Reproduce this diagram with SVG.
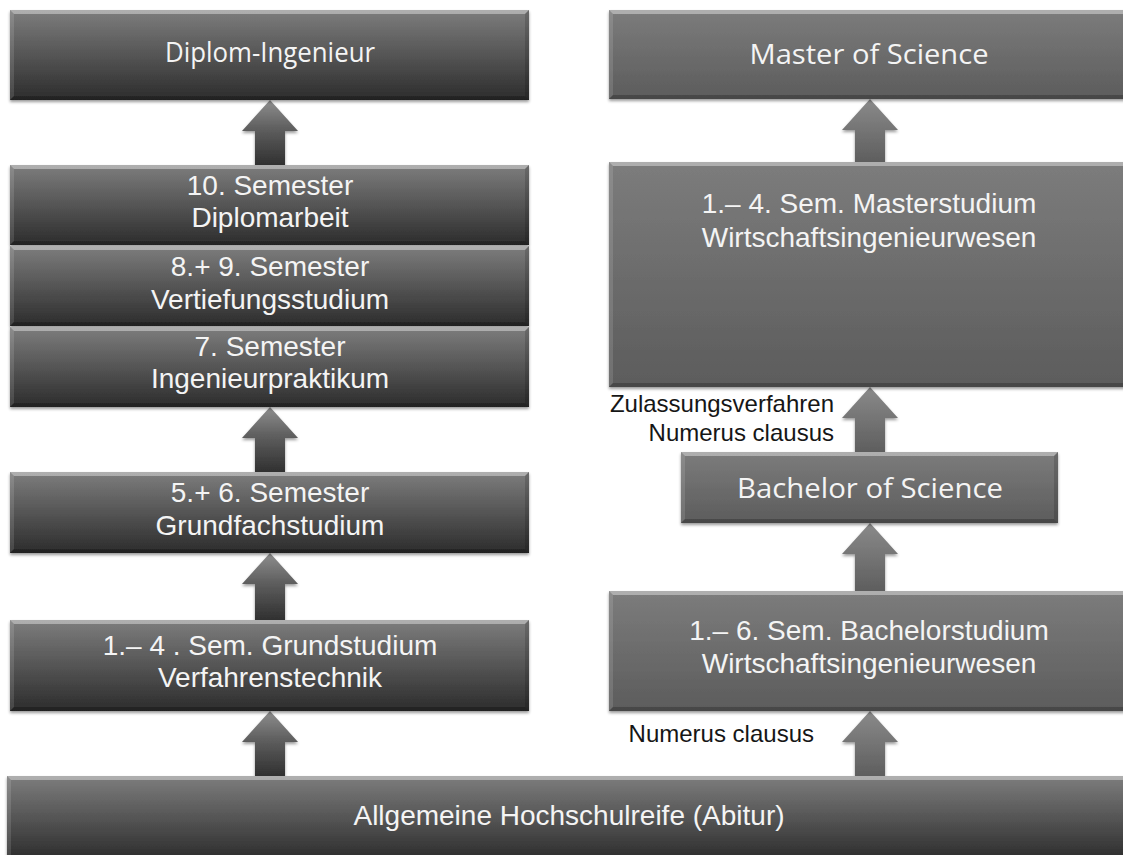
<svg xmlns="http://www.w3.org/2000/svg" width="1123" height="855" viewBox="0 0 1123 855">
<defs>
<linearGradient id="gDark" x1="0" y1="0" x2="0" y2="1">
<stop offset="0" stop-color="#7d7d7d"/><stop offset="0.5" stop-color="#555"/><stop offset="1" stop-color="#2c2c2c"/>
</linearGradient>
<linearGradient id="gLight" x1="0" y1="0" x2="0" y2="1">
<stop offset="0" stop-color="#7c7c7c"/><stop offset="1" stop-color="#5c5c5c"/>
</linearGradient>
<linearGradient id="aDark" x1="0" y1="0" x2="0" y2="1">
<stop offset="0" stop-color="#8e8e8e"/><stop offset="0.45" stop-color="#5e5e5e"/><stop offset="1" stop-color="#303030"/>
</linearGradient>
<linearGradient id="aLight" x1="0" y1="0" x2="0" y2="1">
<stop offset="0" stop-color="#8a8a8a"/><stop offset="1" stop-color="#5e5e5e"/>
</linearGradient>
<filter id="sh" x="-5%" y="-10%" width="110%" height="125%">
<feDropShadow dx="0" dy="2" stdDeviation="1.6" flood-color="#000" flood-opacity="0.4"/>
</filter>
</defs>
<style>
.dk{fill:url(#gDark);filter:url(#sh)}
.lt{fill:url(#gLight);filter:url(#sh)}
.bt{fill:#fff;fill-opacity:0.38}
.bl{fill:#fff;fill-opacity:0.12}
.br{fill:#000;fill-opacity:0.15}
.bb{fill:#000;fill-opacity:0.22}
.ad{fill:url(#aDark);filter:url(#sh)}
.al{fill:url(#aLight);filter:url(#sh)}
.t{font-family:"Liberation Sans",Arial,sans-serif;font-size:28px;fill:#f4f4f4;text-anchor:middle}
.h{font-family:"Open Sans","Noto Sans",sans-serif;font-size:27px;fill:#f4f4f4;text-anchor:middle}
.lb{font-family:"Liberation Sans",Arial,sans-serif;font-size:24px;fill:#161616;text-anchor:end}
</style>

<g id="connectors">
<polygon class="ad" points="270,100 298,131 285,131 285,165 255,165 255,131 242,131"/>
<polygon class="ad" points="270,407 298,438 285,438 285,472 255,472 255,438 242,438"/>
<polygon class="ad" points="270,553 298,584 285,584 285,620 255,620 255,584 242,584"/>
<polygon class="ad" points="270,711 298,742 285,742 285,776 255,776 255,742 242,742"/>
<polygon class="al" points="870,99 898,130 885,130 885,162 855,162 855,130 842,130"/>
<polygon class="al" points="870,387 898,418 885,418 885,452 855,452 855,418 842,418"/>
<polygon class="al" points="870,523 898,554 885,554 885,591 855,591 855,554 842,554"/>
<polygon class="al" points="870,711 898,742 885,742 885,776 855,776 855,742 842,742"/>
</g>

<g id="diplom">
<rect class="dk" x="10" y="10" width="519" height="90"/>
<path class="bt" d="M10,10H529L525,14H14Z"/><path class="bl" d="M10,10L14,14V96L10,100Z"/><path class="br" d="M529,10L525,14V96L529,100Z"/><path class="bb" d="M10,100H529L525,96H14Z"/>
<text class="h" x="270" y="62" textLength="210" lengthAdjust="spacingAndGlyphs">Diplom-Ingenieur</text>
</g>

<g id="sem10">
<rect class="dk" x="10" y="165" width="519" height="80"/>
<path class="bt" d="M10,165H529L525,169H14Z"/><path class="bl" d="M10,165L14,169V241L10,245Z"/><path class="br" d="M529,165L525,169V241L529,245Z"/><path class="bb" d="M10,245H529L525,241H14Z"/>
<text class="t" x="270" y="195">10. Semester</text>
<text class="t" x="270" y="227">Diplomarbeit</text>
</g>

<g id="sem89">
<rect class="dk" x="10" y="246" width="519" height="80"/>
<path class="bt" d="M10,246H529L525,250H14Z"/><path class="bl" d="M10,246L14,250V322L10,326Z"/><path class="br" d="M529,246L525,250V322L529,326Z"/><path class="bb" d="M10,326H529L525,322H14Z"/>
<text class="t" x="270" y="276">8.+ 9. Semester</text>
<text class="t" x="270" y="309">Vertiefungsstudium</text>
</g>

<g id="sem7">
<rect class="dk" x="10" y="327" width="519" height="80"/>
<path class="bt" d="M10,327H529L525,331H14Z"/><path class="bl" d="M10,327L14,331V403L10,407Z"/><path class="br" d="M529,327L525,331V403L529,407Z"/><path class="bb" d="M10,407H529L525,403H14Z"/>
<text class="t" x="270" y="356">7. Semester</text>
<text class="t" x="270" y="388">Ingenieurpraktikum</text>
</g>

<g id="sem56">
<rect class="dk" x="10" y="472" width="519" height="81"/>
<path class="bt" d="M10,472H529L525,476H14Z"/><path class="bl" d="M10,472L14,476V549L10,553Z"/><path class="br" d="M529,472L525,476V549L529,553Z"/><path class="bb" d="M10,553H529L525,549H14Z"/>
<text class="t" x="270" y="502">5.+ 6. Semester</text>
<text class="t" x="270" y="535">Grundfachstudium</text>
</g>

<g id="sem14">
<rect class="dk" x="10" y="620" width="519" height="91"/>
<path class="bt" d="M10,620H529L525,624H14Z"/><path class="bl" d="M10,620L14,624V707L10,711Z"/><path class="br" d="M529,620L525,624V707L529,711Z"/><path class="bb" d="M10,711H529L525,707H14Z"/>
<text class="t" x="270" y="655">1.– 4 . Sem. Grundstudium</text>
<text class="t" x="270" y="687">Verfahrenstechnik</text>
</g>

<g id="master">
<rect class="lt" x="609" y="10" width="520" height="89"/>
<path class="bt" d="M609,10H1129L1125,14H613Z"/><path class="bl" d="M609,10L613,14V95L609,99Z"/><path class="bb" d="M609,99H1129L1125,95H613Z"/>
<text class="h" x="869" y="64" textLength="239" lengthAdjust="spacingAndGlyphs">Master of Science</text>
</g>

<g id="masterstudium">
<rect class="lt" x="609" y="162" width="520" height="225"/>
<path class="bt" d="M609,162H1129L1125,166H613Z"/><path class="bl" d="M609,162L613,166V383L609,387Z"/><path class="bb" d="M609,387H1129L1125,383H613Z"/>
<text class="t" x="869" y="213">1.– 4. Sem. Masterstudium</text>
<text class="t" x="869" y="247">Wirtschaftsingenieurwesen</text>
</g>

<g id="bachelor">
<rect class="lt" x="681" y="452" width="377" height="71"/>
<path class="bt" d="M681,452H1058L1054,456H685Z"/><path class="bl" d="M681,452L685,456V519L681,523Z"/><path class="br" d="M1058,452L1054,456V519L1058,523Z"/><path class="bb" d="M681,523H1058L1054,519H685Z"/>
<text class="h" x="870" y="498" textLength="266" lengthAdjust="spacingAndGlyphs">Bachelor of Science</text>
</g>

<g id="bachelorstudium">
<rect class="lt" x="609" y="591" width="520" height="120"/>
<path class="bt" d="M609,591H1129L1125,595H613Z"/><path class="bl" d="M609,591L613,595V707L609,711Z"/><path class="bb" d="M609,711H1129L1125,707H613Z"/>
<text class="t" x="869" y="640">1.– 6. Sem. Bachelorstudium</text>
<text class="t" x="869" y="673">Wirtschaftsingenieurwesen</text>
</g>

<g id="abitur">
<rect class="dk" x="7" y="776" width="1125" height="84"/>
<path class="bt" d="M7,776H1132L1128,780H11Z"/><path class="bl" d="M7,776L11,780V860L7,860Z"/>
<text class="t" x="569" y="825">Allgemeine Hochschulreife (Abitur)</text>
</g>

<g id="labels">
<text class="lb" x="834" y="412">Zulassungsverfahren</text>
<text class="lb" x="834" y="441">Numerus clausus</text>
<text class="lb" x="814" y="742">Numerus clausus</text>
</g>
</svg>
